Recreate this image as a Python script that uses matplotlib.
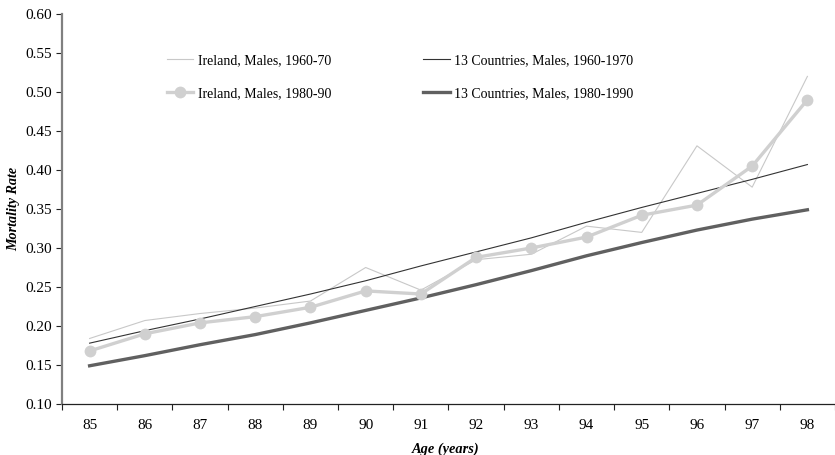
import matplotlib
matplotlib.use("Agg")
import matplotlib.pyplot as plt
import numpy as np

ages = [85, 86, 87, 88, 89, 90, 91, 92, 93, 94, 95, 96, 97, 98]
ireland_6070 = [0.184, 0.207, 0.216, 0.223, 0.232, 0.275, 0.246, 0.285, 0.292, 0.328, 0.320, 0.431, 0.378, 0.520]
ireland_8090 = [0.168, 0.190, 0.204, 0.212, 0.224, 0.245, 0.241, 0.288, 0.300, 0.314, 0.342, 0.355, 0.405, 0.490]
countries_6070 = [0.178, 0.194, 0.209, 0.225, 0.241, 0.258, 0.277, 0.295, 0.313, 0.333, 0.352, 0.370, 0.388, 0.407]
countries_8090 = [0.149, 0.162, 0.176, 0.189, 0.204, 0.220, 0.236, 0.253, 0.271, 0.290, 0.307, 0.323, 0.337, 0.349]

yticks = [0.10, 0.15, 0.20, 0.25, 0.30, 0.35, 0.40, 0.45, 0.50, 0.55, 0.60]

plt.rcParams["font.family"] = ["Liberation Serif", "DejaVu Serif"]

fig = plt.figure(figsize=(8.35, 4.55), dpi=100)
ax = fig.add_axes([62 / 835, 1 - 404 / 455, 1 - 62 / 835, (404 - 14) / 455])

l1, = ax.plot(ages, ireland_6070, color="#c8c8c8", lw=0.8, zorder=2)
l3, = ax.plot(ages, countries_6070, color="#333333", lw=0.8, zorder=3)
l4, = ax.plot(ages, countries_8090, color="#606060", lw=2.4, zorder=3)
l2, = ax.plot(ages, ireland_8090, color="#d0d0d0", lw=2.4, marker="o",
              markersize=8.5, markeredgewidth=0, zorder=4)

ax.set_xlim(ages[0] - 0.5, ages[-1] + 0.5)
ax.set_ylim(yticks[0], yticks[-1])
ax.set_yticks(yticks)
ax.set_yticklabels([f"{v:.2f}" for v in yticks])
ax.set_xticks(ages)
ax.set_xticks(np.arange(ages[0] - 0.5, ages[-1] + 1.0, 1.0), minor=True)
ax.tick_params(axis="x", which="major", length=0, pad=11, labelsize=11)
ax.tick_params(axis="x", which="minor", length=4.5, width=0.8, color="#222222")
ax.tick_params(axis="y", length=4, width=0.8, pad=3, labelsize=11, color="#222222")

for side in ["top", "right"]:
    ax.spines[side].set_visible(False)
ax.spines["left"].set_color("#808080")
ax.spines["left"].set_linewidth(1.6)
ax.spines["bottom"].set_color("#222222")
ax.spines["bottom"].set_linewidth(0.9)

fig.text(446 / 835, 1 - 449 / 455, "Age (years)", ha="center", va="center",
         fontsize=10.4, fontweight="bold", fontstyle="italic")
fig.text(14 / 835, 1 - 209 / 455, "Mortality Rate", ha="center", va="center",
         rotation=90, fontsize=10.2, fontweight="bold", fontstyle="italic")

fig.legend([l1, l2, l3, l4],
           ["Ireland, Males, 1960-70", "Ireland, Males, 1980-90",
            "13 Countries, Males, 1960-1970", "13 Countries, Males, 1980-1990"],
           loc="upper left", bbox_to_anchor=(167 / 835, 1 - 54 / 455), ncol=2,
           frameon=False, fontsize=10, borderpad=0, borderaxespad=0,
           handlelength=1.9, handletextpad=0.3, labelspacing=1.45,
           columnspacing=6.65)

fig.savefig("out.png", dpi=100)
